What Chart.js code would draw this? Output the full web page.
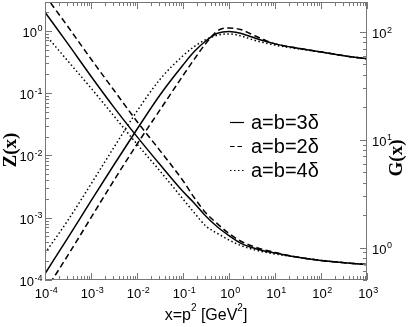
<!DOCTYPE html>
<html><head><meta charset="utf-8">
<script src="https://cdn.jsdelivr.net/npm/chart.js@4.4.1/dist/chart.umd.min.js"></script>
<style>html,body{margin:0;padding:0;background:#fff}#c{display:block}</style>
</head><body>
<canvas id="c" width="409" height="327"></canvas>
<script>
// momentum x = p^2 [GeV^2]
const xValues = [1e-4, 3.16e-4, 1e-3, 3.16e-3, 1e-2, 3.16e-2, 0.1, 0.178, 0.316, 0.562, 1, 1.78, 3.16, 5.62, 10, 31.6, 100, 316, 1000];

// Z(x), left axis
const zA3 = [1.26e-4, 4.79e-4, 1.86e-3, 7.08e-3, 0.0263, 0.0933, 0.282, 0.468, 0.692, 0.912, 0.977, 0.912, 0.794, 0.692, 0.617, 0.525, 0.457, 0.398, 0.355];
const zA2 = [6.6e-5, 2.51e-4, 1.0e-3, 3.98e-3, 0.0151, 0.0537, 0.191, 0.355, 0.631, 1.0, 1.11, 1.05, 0.871, 0.724, 0.617, 0.525, 0.457, 0.398, 0.355];
const zA4 = [2.69e-4, 9.12e-4, 3.47e-3, 0.0135, 0.0513, 0.166, 0.398, 0.562, 0.724, 0.851, 0.891, 0.832, 0.724, 0.646, 0.589, 0.513, 0.457, 0.398, 0.355];

// G(x), right axis
const gA3 = [153, 77.6, 38.9, 20.0, 10.7, 5.89, 3.31, 2.57, 1.95, 1.55, 1.29, 1.10, 1.0, 0.933, 0.891, 0.813, 0.759, 0.724, 0.695];
const gA2 = [219, 112, 56.2, 28.8, 14.8, 7.94, 4.17, 2.88, 2.09, 1.66, 1.35, 1.15, 1.035, 0.955, 0.902, 0.813, 0.759, 0.724, 0.695];
const gA4 = [95.5, 53.7, 30.2, 16.6, 9.12, 5.13, 2.82, 2.09, 1.58, 1.35, 1.175, 1.047, 0.966, 0.912, 0.871, 0.813, 0.759, 0.724, 0.695];

const seriesLabels = ['a=b=3\u03B4', 'a=b=2\u03B4', 'a=b=4\u03B4'];
const xTickExp = [-4, -3, -2, -1, 0, 1, 2, 3];
const zTickExp = [-4, -3, -2, -1, 0];
const gTickExp = [0, 1, 2];
const xTitle = ['x=p', '2', ' [GeV', '2', ']'];
const zTitle = 'Z(x)';
const gTitle = 'G(x)';

const dashes = [[], [6, 3.5], [1.5, 2.5]];
const axisColor = '#777777';

function pts(arr) { return xValues.map((x, i) => ({ x: x, y: arr[i] })); }
function ds(label, arr, k, axis) {
  return { label: label, data: pts(arr), yAxisID: axis, borderColor: '#000', borderWidth: 1.5,
    borderDash: dashes[k], pointRadius: 0, fill: false, cubicInterpolationMode: 'monotone' };
}

function drawPow(ctx, exp, x, y, align) {
  const big = '13px "Liberation Sans", Arial, sans-serif';
  const small = '9px "Liberation Sans", Arial, sans-serif';
  const e = String(exp);
  ctx.font = big; const w1 = ctx.measureText('10').width;
  ctx.font = small; const w2 = ctx.measureText(e).width;
  let sx = x;
  if (align === 'center') sx = x - (w1 + w2) / 2 + 1;
  else if (align === 'right') sx = x - (w1 + w2);
  ctx.textAlign = 'left'; ctx.textBaseline = 'alphabetic';
  ctx.font = big; ctx.fillText('10', sx, y);
  ctx.font = small; ctx.fillText(e, sx + w1 + 0.5, y - 5.5);
}

const decor = {
  id: 'decor',
  afterDatasetsDraw(chart) {
    const { ctx, chartArea: a, scales } = chart;
    const sx = scales.x, sz = scales.yZ, sg = scales.yG;
    ctx.save();
    ctx.strokeStyle = axisColor; ctx.lineWidth = 1;
    ctx.strokeRect(a.left + 0.5, a.top + 0.5, a.right - a.left - 1, a.bottom - a.top - 1);
    ctx.beginPath();
    // x ticks bottom and top
    for (let d = -4; d <= 3; d++) {
      for (let m = 1; m <= 9; m++) {
        const v = m * Math.pow(10, d);
        if (v > 1000.0001) break;
        const px = Math.round(sx.getPixelForValue(v)) + 0.5;
        const L = m === 1 ? 7 : 4;
        ctx.moveTo(px, a.bottom); ctx.lineTo(px, a.bottom - L);
        ctx.moveTo(px, a.top); ctx.lineTo(px, a.top + L);
      }
    }
    // left Z ticks
    for (let d = -4; d <= 0; d++) {
      for (let m = 1; m <= 9; m++) {
        const v = m * Math.pow(10, d);
        if (v > sz.max) break;
        const py = Math.round(sz.getPixelForValue(v)) + 0.5;
        const L = m === 1 ? 7 : 4;
        ctx.moveTo(a.left, py); ctx.lineTo(a.left + L, py);
      }
    }
    // right G ticks
    for (let d = -1; d <= 2; d++) {
      for (let m = 1; m <= 9; m++) {
        const v = m * Math.pow(10, d);
        if (v < sg.min || v > sg.max) continue;
        const py = Math.round(sg.getPixelForValue(v)) + 0.5;
        const L = m === 1 ? 7 : 4;
        ctx.moveTo(a.right, py); ctx.lineTo(a.right - L, py);
      }
    }
    ctx.stroke();

    ctx.fillStyle = '#000';
    xTickExp.forEach(e => drawPow(ctx, e, sx.getPixelForValue(Math.pow(10, e)), a.bottom + 18, 'center'));
    zTickExp.forEach(e => drawPow(ctx, e, a.left - 3, sz.getPixelForValue(Math.pow(10, e)) + 6, 'right'));
    gTickExp.forEach(e => drawPow(ctx, e, a.right + 5, sg.getPixelForValue(Math.pow(10, e)) + 6, 'left'));

    // axis titles
    ctx.font = 'bold 19px "Liberation Serif", "Times New Roman", serif';
    ctx.textAlign = 'center'; ctx.textBaseline = 'middle';
    ctx.save(); ctx.translate(11, 150); ctx.rotate(-Math.PI / 2); ctx.fillText(zTitle, 0, 0); ctx.restore();
    ctx.save(); ctx.translate(397, 158); ctx.rotate(-Math.PI / 2); ctx.fillText(gTitle, 0, 0); ctx.restore();

    // x title with superscripts
    const big = '16px "Liberation Sans", Arial, sans-serif';
    const small = '10px "Liberation Sans", Arial, sans-serif';
    let tw = 0;
    xTitle.forEach((s, i) => { ctx.font = i % 2 ? small : big; tw += ctx.measureText(s).width; });
    let cx = 206 - tw / 2;
    ctx.textAlign = 'left'; ctx.textBaseline = 'alphabetic';
    xTitle.forEach((s, i) => {
      ctx.font = i % 2 ? small : big;
      ctx.fillText(s, cx, i % 2 ? 311 : 320);
      cx += ctx.measureText(s).width;
    });

    // legend
    const ly = [122, 146, 170];
    seriesLabels.forEach((lab, k) => {
      ctx.strokeStyle = '#000'; ctx.lineWidth = 1.2;
      ctx.setLineDash(k === 1 ? [4.5, 3] : dashes[k]);
      ctx.beginPath(); ctx.moveTo(230, ly[k] + 0.5); ctx.lineTo(244, ly[k] + 0.5); ctx.stroke();
      ctx.setLineDash([]);
      ctx.font = '20px "Liberation Sans", Arial, sans-serif';
      ctx.textBaseline = 'middle'; ctx.textAlign = 'left';
      ctx.fillText(lab, 251, ly[k] + 1);
    });
    ctx.restore();
  }
};

new Chart(document.getElementById('c'), {
  type: 'line',
  data: {
    datasets: [
      ds(seriesLabels[0] + ' Z', zA3, 0, 'yZ'),
      ds(seriesLabels[1] + ' Z', zA2, 1, 'yZ'),
      ds(seriesLabels[2] + ' Z', zA4, 2, 'yZ'),
      ds(seriesLabels[0] + ' G', gA3, 0, 'yG'),
      ds(seriesLabels[1] + ' G', gA2, 1, 'yG'),
      ds(seriesLabels[2] + ' G', gA4, 2, 'yG')
    ]
  },
  options: {
    responsive: false, animation: false, devicePixelRatio: 1,
    layout: { padding: { left: 45, right: 42, top: 2, bottom: 47 } },
    plugins: { legend: { display: false }, tooltip: { enabled: false } },
    scales: {
      x: { type: 'logarithmic', min: 1e-4, max: 1e3, display: false },
      yZ: { type: 'logarithmic', position: 'left', min: 1e-4, max: 2.9, display: false },
      yG: { type: 'logarithmic', position: 'right', min: 0.5, max: 190, display: false }
    }
  },
  plugins: [decor]
});
</script>
</body></html>
